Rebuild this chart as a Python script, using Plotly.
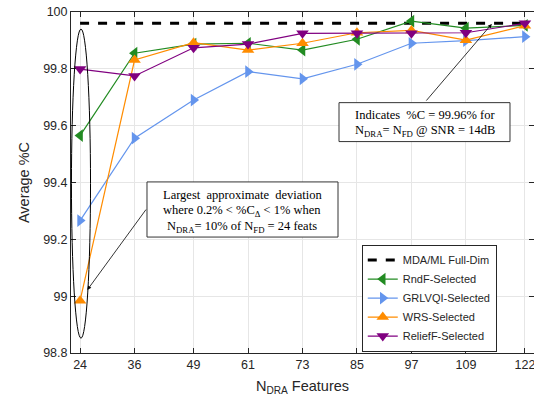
import plotly.graph_objects as go

features = [24, 36, 49, 61, 73, 85, 97, 109, 122]
full_dim = [99.96] * len(features)
rndf = [99.565, 99.855, 99.887, 99.890, 99.866, 99.904, 99.968, 99.943, 99.953]
grlvqi = [99.266, 99.556, 99.690, 99.790, 99.765, 99.816, 99.890, 99.899, 99.913]
wrs = [98.984, 99.831, 99.892, 99.866, 99.890, 99.927, 99.935, 99.901, 99.952]
relieff = [99.799, 99.775, 99.874, 99.887, 99.925, 99.925, 99.925, 99.927, 99.960]
ytick_vals = [98.8, 99.0, 99.2, 99.4, 99.6, 99.8, 100.0]
ytick_text = ["98.8", "99", "99.2", "99.4", "99.6", "99.8", "100"]

fig = go.Figure()
fig.add_trace(go.Scatter(x=features, y=full_dim, mode="lines", name="MDA/ML Full-Dim",
                         line=dict(color="black", width=3, dash="dash")))
series = [
    ("RndF-Selected", rndf, "#228B22", "triangle-left"),
    ("GRLVQI-Selected", grlvqi, "#6495ED", "triangle-right"),
    ("WRS-Selected", wrs, "#FF8C00", "triangle-up"),
    ("ReliefF-Selected", relieff, "#800080", "triangle-down"),
]
for name, vals, col, sym in series:
    fig.add_trace(go.Scatter(x=features, y=vals, mode="lines+markers", name=name,
                             line=dict(color=col, width=1.2),
                             marker=dict(symbol=sym, size=11, color=col)))

# ellipse
fig.add_shape(type="circle", xref="x", yref="y", x0=22.1, x1=26.3, y0=98.852, y1=99.94,
              line=dict(color="black", width=1))

serif = dict(family="Liberation Serif, Times New Roman, serif", size=12.5, color="black")
# arrows
fig.add_annotation(x=114.7, y=99.958, ax=100.0, ay=99.683, xref="x", yref="y", axref="x", ayref="y",
                   text="", showarrow=True, arrowhead=2, arrowsize=1, arrowwidth=0.8, arrowcolor="black")
fig.add_annotation(x=25.6, y=99.022, ax=38.76, ay=99.31, xref="x", yref="y", axref="x", ayref="y",
                   text="", showarrow=True, arrowhead=2, arrowsize=1, arrowwidth=0.8, arrowcolor="black")
# text boxes
fig.add_shape(type="rect", xref="x", yref="y", x0=81.04, x1=118.71, y0=99.544, y1=99.681,
              line=dict(color="#333", width=1), fillcolor="white")
fig.add_shape(type="rect", xref="x", yref="y", x0=38.74, x1=80.82, y0=99.208, y1=99.402,
              line=dict(color="#333", width=1), fillcolor="white")
box1_lines = ["Indicates&nbsp; %C = 99.96% for",
              "N<sub>DRA</sub>= N<sub>FD</sub> @ SNR = 14dB"]
box1_y = [99.6375, 99.582]
for t, yy in zip(box1_lines, box1_y):
    fig.add_annotation(x=99.88, y=yy, xref="x", yref="y", showarrow=False, text=t, font=serif)
box2_lines = ["Largest&nbsp; approximate&nbsp; deviation",
              "where 0.2% < %C<sub>Δ</sub> < 1% when",
              "N<sub>DRA</sub>= 10% of N<sub>FD</sub> = 24 feats"]
box2_y = [99.356, 99.301, 99.244]
for t, yy in zip(box2_lines, box2_y):
    fig.add_annotation(x=59.78, y=yy, xref="x", yref="y", showarrow=False, text=t, font=serif)

axis_common = dict(showline=True, linecolor="#262626", linewidth=1, mirror="ticks", ticks="inside",
                   ticklen=5, tickcolor="#262626", showgrid=True, gridcolor="#E6E6E6", zeroline=False,
                   tickfont=dict(family="Liberation Sans, Arial", size=12.5, color="#262626"))
fig.update_xaxes(range=[22.0, 124.0], tickvals=features, ticktext=[str(f) for f in features],
                 ticklabeloverflow="allow",
                 title=dict(text="N<sub>DRA</sub> Features", font=dict(family="Liberation Sans, Arial", size=14.5, color="#262626"), standoff=9),
                 **axis_common)
fig.update_yaxes(range=[98.8, 100.0], tickvals=ytick_vals, ticktext=ytick_text,
                 title=dict(text="Average %C", font=dict(family="Liberation Sans, Arial", size=14.5, color="#262626"), standoff=10),
                 **axis_common)
fig.update_layout(
    width=534, height=405, margin=dict(l=71, r=0, t=12, b=52),
    plot_bgcolor="white", paper_bgcolor="white",
    legend=dict(x=0.628, y=0.318, xanchor="left", yanchor="top", bgcolor="white",
                bordercolor="#262626", borderwidth=1, tracegroupgap=0,
                font=dict(family="Liberation Sans, Arial", size=11, color="#262626")),
    showlegend=True,
)
fig.write_html("out.html")
